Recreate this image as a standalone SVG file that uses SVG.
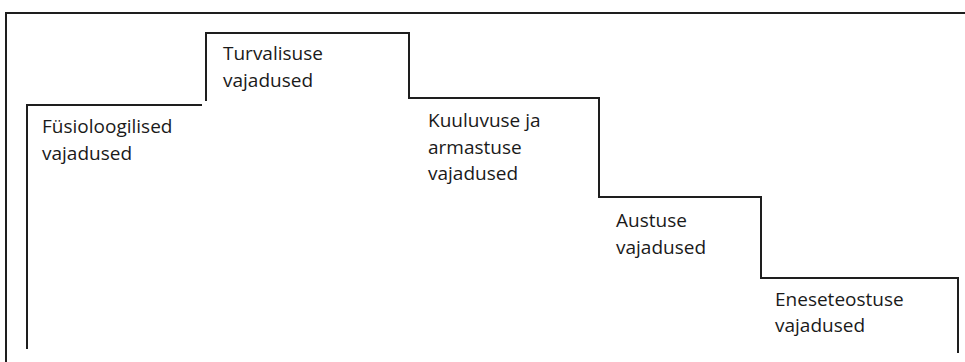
<svg xmlns="http://www.w3.org/2000/svg" width="965" height="362" viewBox="0 0 965 362">
<style>
.ln{fill:none;stroke:#1e1e1e;stroke-width:2;stroke-linecap:square}
.t{font-family:"Open Sans","Noto Sans","Liberation Sans",sans-serif;font-size:19px;fill:#1a1a1a}
</style>
<rect x="0" y="0" width="965" height="362" fill="#fff"/>
<g id="frame">
<path class="ln" d="M6,362 V13 H965"/>
</g>
<g id="connectors">
<path class="ln" d="M27,348 V105 H201"/>
<path class="ln" d="M206,100 V33 H409 V98 H599 V197 H761 V278 H958 V352"/>
</g>
<g id="n1"><text class="t" x="42" y="133">Füsioloogilised</text><text class="t" x="42" y="160">vajadused</text></g>
<g id="n2"><text class="t" x="223" y="60">Turvalisuse</text><text class="t" x="223" y="87">vajadused</text></g>
<g id="n3"><text class="t" x="428" y="127">Kuuluvuse ja</text><text class="t" x="428" y="153.5">armastuse</text><text class="t" x="428" y="180">vajadused</text></g>
<g id="n4"><text class="t" x="616" y="227">Austuse</text><text class="t" x="616" y="254">vajadused</text></g>
<g id="n5"><text class="t" x="775" y="306">Eneseteostuse</text><text class="t" x="775" y="332">vajadused</text></g>
</svg>
